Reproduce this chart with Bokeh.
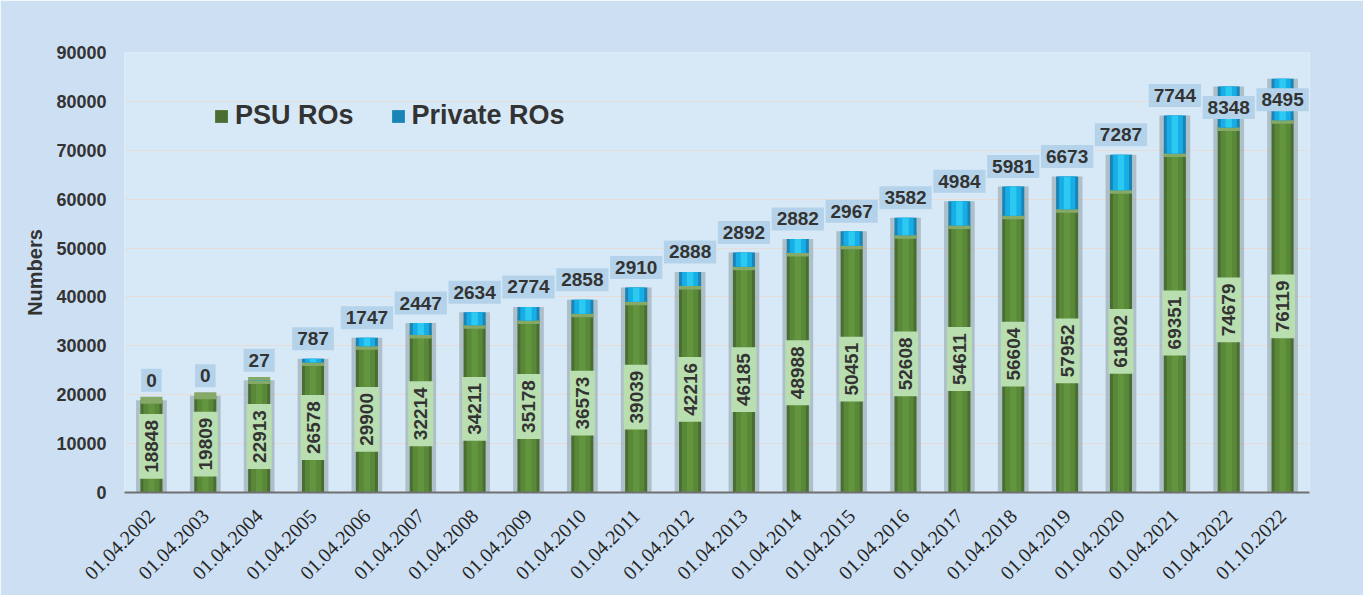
import math
from bokeh.plotting import figure
from bokeh.models import ColumnDataSource, Legend, LegendItem, FixedTicker
from bokeh.core.properties import value
from bokeh.embed import file_html
from bokeh.resources import INLINE

dates = ["01.04.2002", "01.04.2003", "01.04.2004", "01.04.2005", "01.04.2006",
         "01.04.2007", "01.04.2008", "01.04.2009", "01.04.2010", "01.04.2011",
         "01.04.2012", "01.04.2013", "01.04.2014", "01.04.2015", "01.04.2016",
         "01.04.2017", "01.04.2018", "01.04.2019", "01.04.2020", "01.04.2021",
         "01.04.2022", "01.10.2022"]
psu_ros = [18848, 19809, 22913, 26578, 29900, 32214, 34211, 35178, 36573, 39039,
           42216, 46185, 48988, 50451, 52608, 54611, 56604, 57952, 61802, 69351,
           74679, 76119]
private_ros = [0, 0, 27, 787, 1747, 2447, 2634, 2774, 2858, 2910, 2888, 2892,
               2882, 2967, 3582, 4984, 5981, 6673, 7287, 7744, 8348, 8495]
y_ticks = [0, 10000, 20000, 30000, 40000, 50000, 60000, 70000, 80000, 90000]

totals = [a + b for a, b in zip(psu_ros, private_ros)]
# labels that would leave the plot top are placed just under the bar top
priv_offsets = [21 if t > 80000 else -20 for t in totals]

src = ColumnDataSource(dict(
    x=dates, psu=psu_ros, priv=private_ros, total=totals,
    psu_mid=[v / 2 for v in psu_ros],
    psu_txt=[str(v) for v in psu_ros],
    priv_txt=[str(v) for v in private_ros],
    priv_off=priv_offsets,
))

p = figure(x_range=dates, y_range=(0, 90000), width=1363, height=595,
           output_backend="svg", toolbar_location=None,
           min_border_left=124, min_border_right=54,
           min_border_top=52, min_border_bottom=103)
p.background_fill_color = "#d7e8f6"
p.border_fill_color = "#cde0f3"
p.outline_line_color = None
p.x_range.range_padding = 0

# halo behind bars
p.vbar(x="x", top="total", bottom=0, width=0.57, source=src,
       fill_color="#6f8286", fill_alpha=0.4, line_color=None)

# PSU bars (green)
psu_r = p.vbar(x="x", top="psu", bottom=0, width=0.41, source=src,
               fill_color="#4a6e31", line_color=None)
p.vbar(x="x", top="psu", bottom=0, width=0.30, source=src,
       fill_color="#588838", line_color=None)
p.vbar(x="x", top="psu", bottom=0, width=0.12, source=src,
       fill_color="#62953e", line_color=None)
p.rect(x="x", y="psu", width=0.41, height=7, height_units="screen", source=src,
       fill_color="#86a968", line_color=None)

# Private bars (blue)
priv_r = p.vbar(x="x", top="total", bottom="psu", width=0.41, source=src,
                fill_color="#1a84b8", line_color=None)
p.vbar(x="x", top="total", bottom="psu", width=0.30, source=src,
       fill_color="#16aee4", line_color=None)
p.vbar(x="x", top="total", bottom="psu", width=0.12, source=src,
       fill_color="#2ccaf2", line_color=None)

# PSU labels (rotated, in green boxes)
p.text(x="x", y="psu_mid", text="psu_txt", source=src, angle=math.pi / 2,
       text_align="center", text_baseline="middle",
       text_font=value("Liberation Sans"), text_font_style="bold",
       text_font_size="19px", text_color="#333333",
       background_fill_color="#b9dfb0", padding=6)

# Private labels (above bars, in blue boxes)
p.text(x="x", y="total", text="priv_txt", source=src, y_offset="priv_off",
       text_align="center", text_baseline="middle",
       text_font=value("Liberation Sans"), text_font_style="bold",
       text_font_size="19px", text_color="#333333",
       background_fill_color="#b4d3ea", padding=5)

# axes
p.yaxis.ticker = FixedTicker(ticks=y_ticks)
p.yaxis.axis_line_color = None
p.yaxis.major_tick_line_color = None
p.yaxis.minor_tick_line_color = None
p.yaxis.major_tick_out = 0
p.yaxis.major_label_standoff = 18
p.yaxis.major_label_text_font = "Liberation Sans"
p.yaxis.major_label_text_font_style = "bold"
p.yaxis.major_label_text_font_size = "18px"
p.yaxis.major_label_text_color = "#333333"
p.yaxis.axis_label = "Numbers"
p.yaxis.axis_label_text_font = "Liberation Sans"
p.yaxis.axis_label_text_font_style = "bold"
p.yaxis.axis_label_text_font_size = "20px"
p.yaxis.axis_label_text_color = "#333333"
p.yaxis.axis_label_standoff = 7
p.yaxis[0].formatter.use_scientific = False

p.xaxis.axis_line_color = "#707070"
p.xaxis.axis_line_width = 2
p.xaxis.major_tick_line_color = None
p.xaxis.major_tick_out = 0
p.xaxis.major_label_orientation = math.pi / 4
p.xaxis.major_label_standoff = 20
p.xaxis.major_label_text_font = "Liberation Serif"
p.xaxis.major_label_text_font_size = "20px"
p.xaxis.major_label_text_color = "#262626"

p.xgrid.grid_line_color = None
p.ygrid.grid_line_color = "#e6dcd8"
p.ygrid.grid_line_width = 1

legend = Legend(items=[LegendItem(label="PSU ROs", renderers=[psu_r]),
                       LegendItem(label="Private ROs", renderers=[priv_r])],
                orientation="horizontal", location=(89, 361),
                padding=0, margin=0, spacing=36, label_standoff=6,
                glyph_width=16, glyph_height=16, label_height=30,
                background_fill_alpha=0, border_line_color=None,
                label_text_font="Liberation Sans", label_text_font_style="bold",
                label_text_font_size="27px", label_text_color="#333333")
p.add_layout(legend, "center")

open("out.html", "w").write(file_html(p, INLINE))
